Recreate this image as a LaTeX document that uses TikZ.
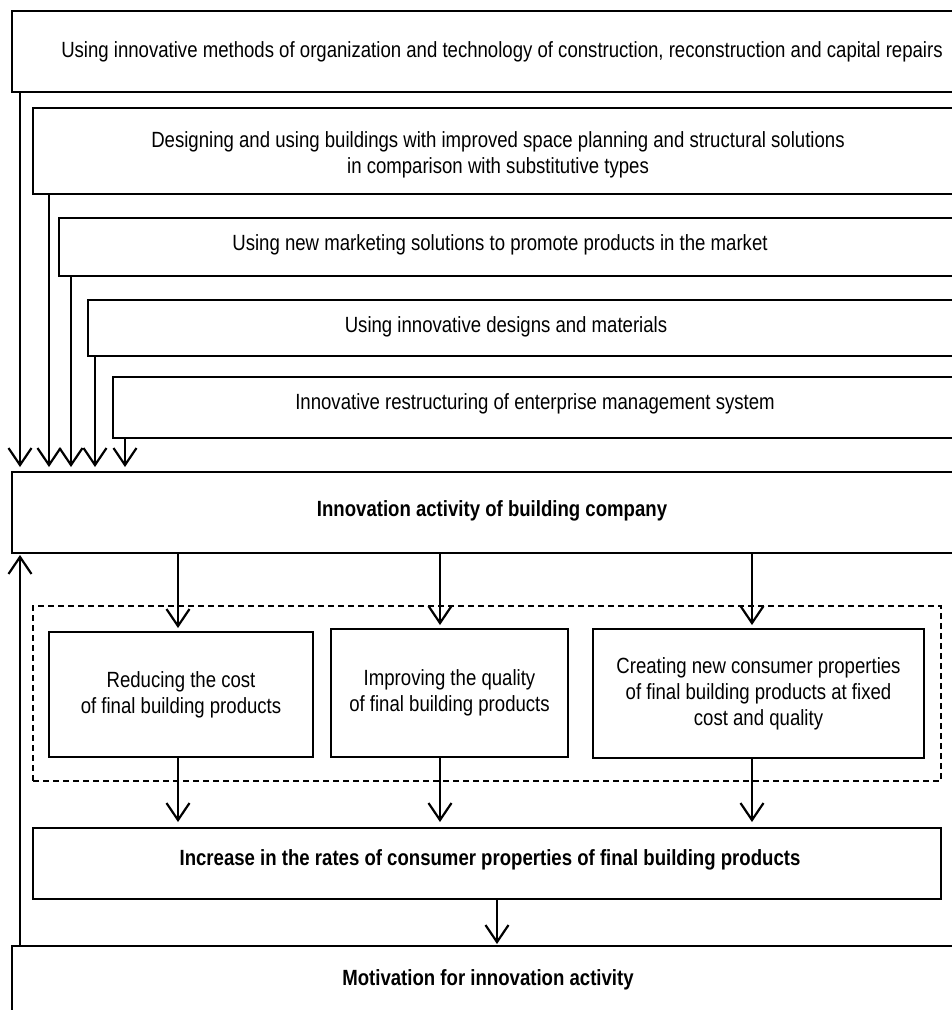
\documentclass[tikz,border=0pt]{standalone}
\usepackage{fontspec}
\setmainfont[FakeStretch=0.845]{Liberation Sans}
\usepackage{tikz}
\usetikzlibrary{arrows.meta, positioning, calc}

\begin{document}
\begin{tikzpicture}[
    x=1pt, y=-1pt,
    every node/.style={font=\fontsize{22}{26}\selectfont, inner sep=0pt, outer sep=0pt},
    box/.style={draw, line width=1.3pt, anchor=north west, align=center},
    grp/.style={draw, dash pattern=on 6pt off 4pt, line width=1.3pt, anchor=north west},
    txt/.style={align=center},
    arr/.style={-{Straight Barb[length=17pt, width=23pt, line width=2.2pt]}, line width=2.2pt},
]
\clip (0,0) rectangle (952,1010);

\coordinate (colA) at (178,0);
\coordinate (colB) at (440,0);
\coordinate (colC) at (752,0);

\node[box, minimum width=950pt, minimum height=81pt]  (m1)   at (12,11)  {};
\node[box, minimum width=930pt, minimum height=86pt]  (m2)   at (33,108) {};
\node[box, minimum width=900pt, minimum height=58pt]  (m3)   at (59,218) {};
\node[box, minimum width=870pt, minimum height=56pt]  (m4)   at (88,300) {};
\node[box, minimum width=850pt, minimum height=61pt]  (m5)   at (113,377) {};
\node[box, minimum width=950pt, minimum height=81pt]  (main) at (12,472) {};
\node[grp, minimum width=908pt, minimum height=175pt] (grp)  at (33,606) {};
\node[box, minimum width=264pt, minimum height=125pt] (a)    at (49,632)
    {Reducing the cost\\of final building products};
\node[box, minimum width=237pt, minimum height=128pt] (b)    at (331,629)
    {Improving the quality\\of final building products};
\node[box, minimum width=331pt, minimum height=129pt] (c)    at (593,629)
    {Creating new consumer properties\\of final building products at fixed\\cost and quality};
\node[box, minimum width=908pt, minimum height=71pt]  (inc)  at (33,828) {};
\node[box, minimum width=950pt, minimum height=100pt] (mot)  at (12,946) {};

\node[txt] (t1) at (502,52)
    {Using innovative methods of organization and technology of construction, reconstruction and capital repairs};
\node[txt] (t2) at (498,155)
    {Designing and using buildings with improved space planning and structural solutions\\in comparison with substitutive types};
\node[txt] (t3) at (500,245) {Using new marketing solutions to promote products in the market};
\node[txt] (t4) at (506,327) {Using innovative designs and materials};
\node[txt] (t5) at (535,404) {Innovative restructuring of enterprise management system};
\node[txt, font=\fontsize{22}{26}\selectfont\bfseries] (tmain) at (492,511)
    {Innovation activity of building company};
\node[txt, font=\fontsize{22}{26}\selectfont\bfseries] (tinc) at (490,860)
    {Increase in the rates of consumer properties of final building products};
\node[txt, font=\fontsize{22}{26}\selectfont\bfseries] (tmot) at (488,980)
    {Motivation for innovation activity};

\draw[arr, shorten >=5pt] ([xshift=8pt]m1.south west)  -- ([xshift=8pt]m1.south west |- main.north);
\draw[arr, shorten >=5pt] ([xshift=16pt]m2.south west) -- ([xshift=16pt]m2.south west |- main.north);
\draw[arr, shorten >=5pt] ([xshift=12pt]m3.south west) -- ([xshift=12pt]m3.south west |- main.north);
\draw[arr, shorten >=5pt] ([xshift=7pt]m4.south west)  -- ([xshift=7pt]m4.south west |- main.north);
\draw[arr, shorten >=5pt] ([xshift=12pt]m5.south west) -- ([xshift=12pt]m5.south west |- main.north);

\draw[arr, shorten >=2pt] ([xshift=8pt]mot.north west) -- ([xshift=8pt]mot.north west |- main.south);

\foreach \col/\n in {colA/a, colB/b, colC/c} {
    \draw[arr, shorten >=4pt] (main.south -| \col) -- (\n.north -| \col);
    \draw[arr, shorten >=6pt] (\n.south -| \col) -- (inc.north -| \col);
}

\draw[arr, shorten >=2pt] ([xshift=10pt]inc.south) -- ([xshift=10pt]inc.south |- mot.north);
\end{tikzpicture}
\end{document}
